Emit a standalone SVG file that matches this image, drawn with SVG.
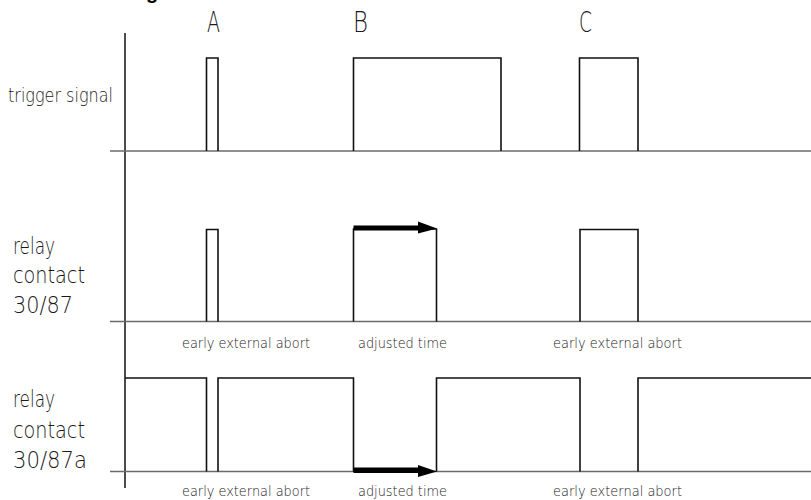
<svg xmlns="http://www.w3.org/2000/svg" width="811" height="500" viewBox="0 0 811 500">
<style>
  .bg { fill: #ffffff; }
  .base { stroke: #6a6a6a; stroke-width: 1.5; fill: none; }
  .sig { stroke: #111111; stroke-width: 1.6; fill: none; stroke-linejoin: miter; }
  .axis { stroke: #111111; stroke-width: 1.5; fill: none; }
  .arrow { fill: #000000; stroke: none; }
  text { font-family: "DejaVu Sans", "Liberation Sans", sans-serif; font-weight: 200; fill: #1a1a1a; }
  .title { font-family: "Liberation Sans", Arial, sans-serif; font-weight: bold; font-size: 20px; fill: #000; }
  .letter { font-size: 28px; }
  .small { font-size: 19px; }
  .big { font-size: 23px; }
  .note { font-size: 13.5px; }
</style>
<rect class="bg" x="0" y="0" width="811" height="500"/>

<g id="title">
  <text class="title" x="146" y="-1.5">g</text>
</g>

<g id="event-labels">
  <text class="letter" x="207" y="32" textLength="13" lengthAdjust="spacingAndGlyphs">A</text>
  <text class="letter" x="353" y="32" textLength="15" lengthAdjust="spacingAndGlyphs">B</text>
  <text class="letter" x="579" y="32" textLength="13" lengthAdjust="spacingAndGlyphs">C</text>
</g>

<g id="axis">
  <line class="axis" x1="125" y1="33" x2="125" y2="488"/>
</g>

<g id="row-trigger">
  <text class="small" x="8" y="102" textLength="105" lengthAdjust="spacingAndGlyphs">trigger signal</text>
  <line class="base" x1="110" y1="151" x2="811" y2="151"/>
  <path class="sig" d="M206.5,151 V58 H218 V151"/>
  <path class="sig" d="M353.5,151 V58 H501 V151"/>
  <path class="sig" d="M579.5,151 V58 H638 V151"/>
</g>

<g id="row-relay-87">
  <text class="big" x="13" y="254" textLength="42" lengthAdjust="spacingAndGlyphs">relay</text>
  <text class="big" x="13" y="283" textLength="72" lengthAdjust="spacingAndGlyphs">contact</text>
  <text class="big" x="13" y="313" textLength="60" lengthAdjust="spacingAndGlyphs">30/87</text>
  <line class="base" x1="110" y1="321.5" x2="811" y2="321.5"/>
  <path class="sig" d="M206.5,321.5 V229.5 H218 V321.5"/>
  <path class="sig" d="M353.5,321.5 V229 H436.5 V321.5"/>
  <path class="sig" d="M580,321.5 V229.5 H638 V321.5"/>
  <text class="note" x="182" y="348" textLength="128" lengthAdjust="spacingAndGlyphs">early external abort</text>
  <text class="note" x="358" y="348" textLength="89" lengthAdjust="spacingAndGlyphs">adjusted time</text>
  <text class="note" x="553" y="348" textLength="129" lengthAdjust="spacingAndGlyphs">early external abort</text>
</g>

<g id="row-relay-87a">
  <text class="big" x="13" y="407" textLength="42" lengthAdjust="spacingAndGlyphs">relay</text>
  <text class="big" x="13" y="438" textLength="72" lengthAdjust="spacingAndGlyphs">contact</text>
  <text class="big" x="13" y="468" textLength="74" lengthAdjust="spacingAndGlyphs">30/87a</text>
  <line class="base" x1="110" y1="471.5" x2="811" y2="471.5"/>
  <path class="sig" d="M125,378 H206.5 V471.5 M218,471.5 V378 H353.5 V471.5 M436.5,471.5 V378 H580 V471.5 M638,471.5 V378 H811"/>
  <text class="note" x="182" y="496" textLength="128" lengthAdjust="spacingAndGlyphs">early external abort</text>
  <text class="note" x="358" y="496" textLength="89" lengthAdjust="spacingAndGlyphs">adjusted time</text>
  <text class="note" x="553" y="496" textLength="129" lengthAdjust="spacingAndGlyphs">early external abort</text>
</g>

<g id="connectors">
  <path class="arrow" d="M353.5,225.5 H418 V221.5 L437,228.5 L418,233.5 V230.5 H353.5 Z"/>
  <path class="arrow" d="M353.5,467.5 H418 V465 L437,471.5 L418,477 V473 H353.5 Z"/>
</g>
</svg>
